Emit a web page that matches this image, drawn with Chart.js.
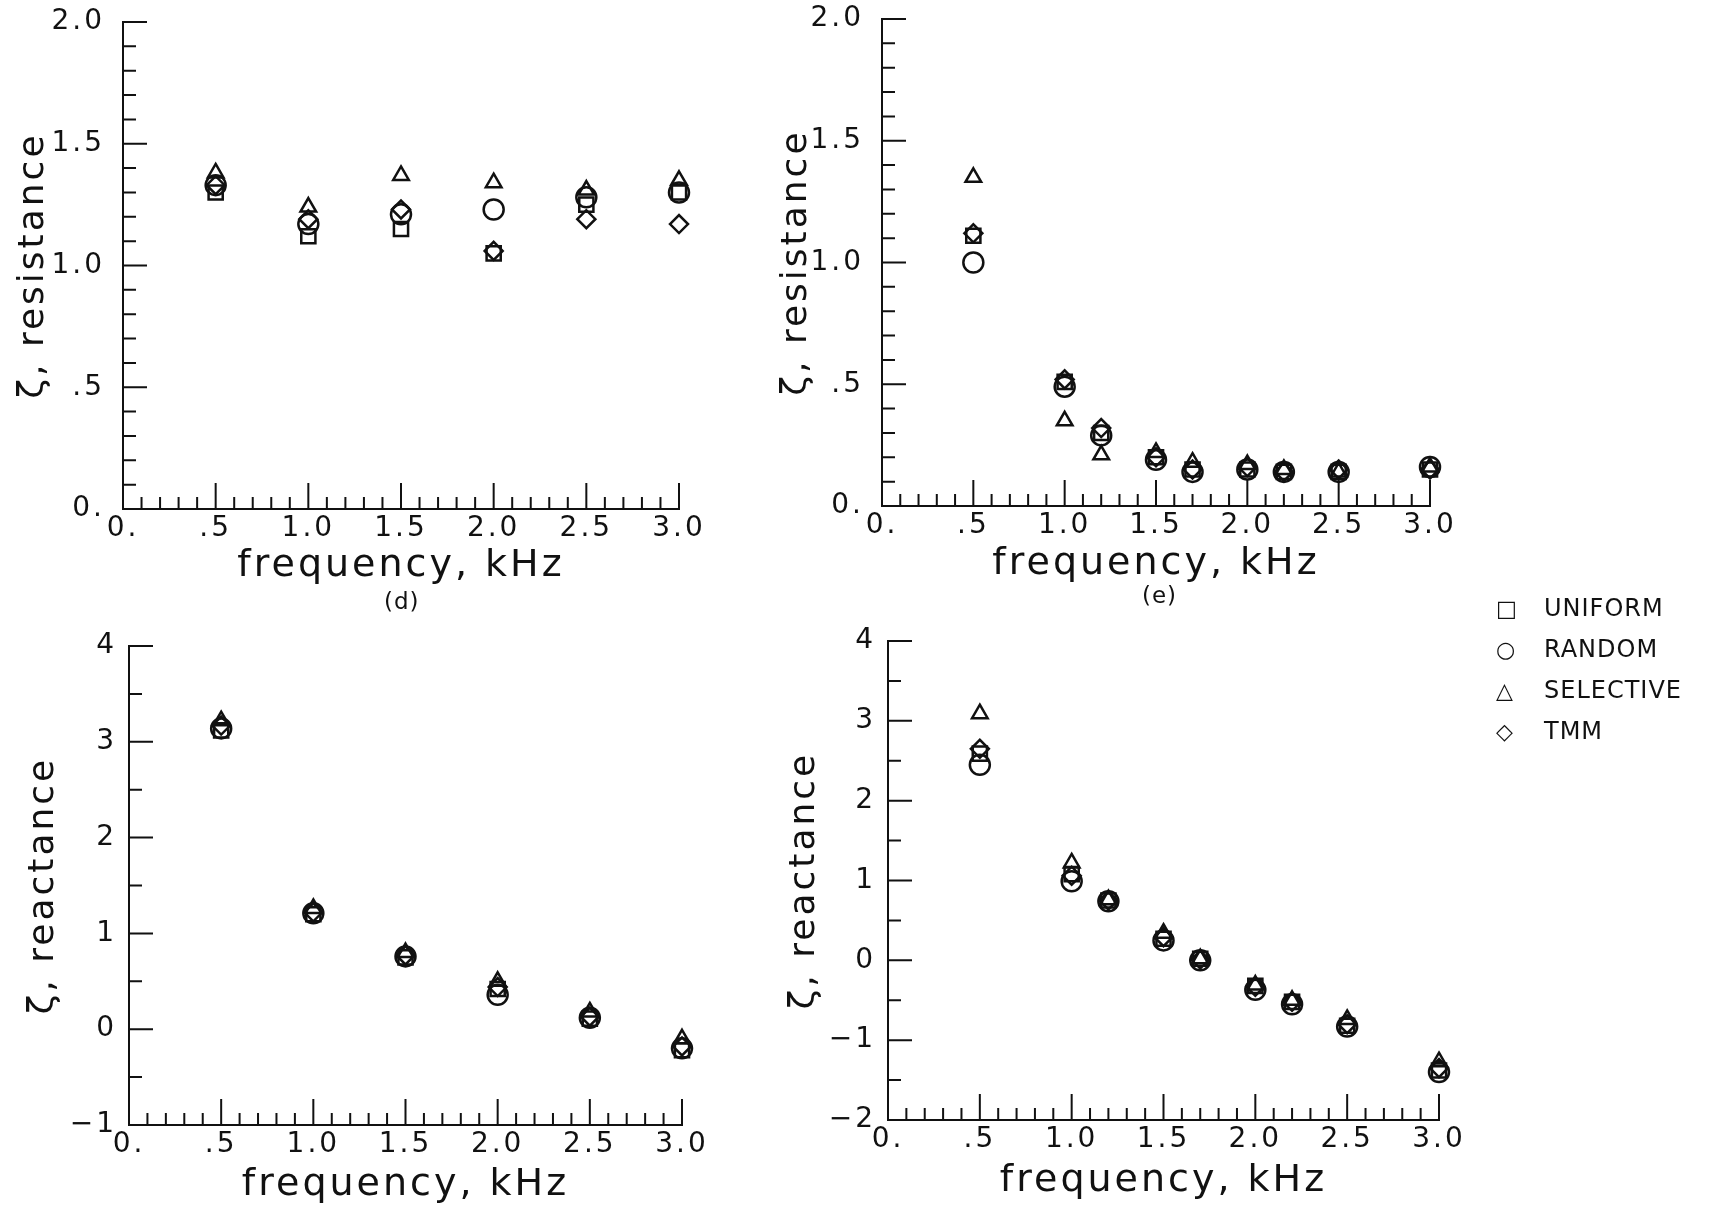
<!DOCTYPE html>
<html>
<head>
<meta charset="utf-8">
<script src="https://cdn.jsdelivr.net/npm/chart.js@4.4.1/dist/chart.umd.min.js"></script>
<style>
    body { margin: 0; background: #fff; width: 1718px; height: 1213px; position: relative; overflow: hidden; }
    canvas { position: absolute; }
    .panel-label { position: absolute; font-family: "DejaVu Sans", sans-serif; font-size: 23px; color: #111; letter-spacing: 1px; }
    .legend { position: absolute; left: 1496px; top: 590px; font-family: "DejaVu Sans", sans-serif; color: #111; }
    .legend div { height: 41px; line-height: 36px; font-size: 24px; letter-spacing: 1px; white-space: nowrap; }
    .legend span { display: inline-block; width: 48px; font-size: 22px; text-align: left; }
</style>
</head>
<body>
<canvas id="resD" style="left:0px;top:0px;width:760px;height:610px"></canvas>
<canvas id="resE" style="left:760px;top:0px;width:740px;height:610px"></canvas>
<canvas id="reaD" style="left:0px;top:610px;width:760px;height:603px"></canvas>
<canvas id="reaE" style="left:760px;top:610px;width:740px;height:603px"></canvas>
<div class="panel-label" style="left:384px;top:588px">(d)</div>
<div class="panel-label" style="left:1142px;top:582px">(e)</div>
<div class="legend">
    <div><span>&#9633;</span>UNIFORM</div>
    <div><span>&#9675;</span>RANDOM</div>
    <div><span>&#9651;</span>SELECTIVE</div>
    <div><span>&#9671;</span>TMM</div>
</div>
<script>
// Data
const freqD = [0.5, 1.0, 1.5, 2.0, 2.5, 3.0];
const freqE = [0.5, 1.0, 1.2, 1.5, 1.7, 2.0, 2.2, 2.5, 3.0];

const resD_uniform   = [1.30, 1.12, 1.15, 1.05, 1.25, 1.30];
const resD_random    = [1.33, 1.17, 1.21, 1.23, 1.28, 1.30];
const resD_selective = [1.38, 1.24, 1.37, 1.34, 1.31, 1.35];
const resD_tmm       = [1.33, 1.19, 1.23, 1.06, 1.19, 1.17];

const resE_uniform   = [1.11, 0.51, 0.30, 0.20, 0.15, 0.15, 0.14, 0.14, 0.15];
const resE_random    = [1.00, 0.49, 0.29, 0.19, 0.14, 0.15, 0.14, 0.14, 0.16];
const resE_selective = [1.35, 0.35, 0.21, 0.22, 0.18, 0.17, 0.15, 0.14, 0.16];
const resE_tmm       = [1.12, 0.52, 0.32, 0.20, 0.15, 0.16, 0.14, 0.15, 0.15];

const reaD_uniform   = [3.12, 1.20, 0.75, 0.42, 0.11, -0.22];
const reaD_random    = [3.14, 1.21, 0.76, 0.36, 0.12, -0.20];
const reaD_selective = [3.22, 1.26, 0.80, 0.50, 0.18, -0.10];
const reaD_tmm       = [3.17, 1.22, 0.77, 0.44, 0.13, -0.18];

const reaE_uniform   = [2.59, 1.08, 0.75, 0.27, 0.02, -0.32, -0.52, -0.82, -1.38];
const reaE_random    = [2.45, 0.99, 0.74, 0.25, 0.00, -0.37, -0.55, -0.83, -1.40];
const reaE_selective = [3.09, 1.22, 0.76, 0.34, 0.02, -0.31, -0.50, -0.74, -1.27];
const reaE_tmm       = [2.65, 1.06, 0.75, 0.29, 0.01, -0.33, -0.52, -0.80, -1.35];

// Tick labels
const freqTickLabels = ['0.', '.5', '1.0', '1.5', '2.0', '2.5', '3.0'];
const resTickLabels = ['0.', '.5', '1.0', '1.5', '2.0'];
const reaDTickLabels = ['\u22121', '0', '1', '2', '3', '4'];
const reaETickLabels = ['\u22122', '\u22121', '0', '1', '2', '3', '4'];

const seriesNames = ['UNIFORM', 'RANDOM', 'SELECTIVE', 'TMM'];
const seriesStyles = [
    { pointStyle: 'rect', radius: 10 },
    { pointStyle: 'circle', radius: 10 },
    { pointStyle: 'triangle', radius: 9 },
    { pointStyle: 'rectRot', radius: 9 }
];

const INK = '#111';
const FONT = '"DejaVu Sans", sans-serif';

// Inward minor/major tick marks along both axes
const tickMarks = {
    id: 'tickMarks',
    afterDraw(chart, args, opts) {
        const { ctx, chartArea, scales: { x, y } } = chart;
        ctx.save();
        ctx.strokeStyle = INK;
        ctx.lineWidth = 2;
        ctx.beginPath();
        for (let i = 0; i <= 30; i++) {
            const px = x.getPixelForValue(i / 10);
            const len = i % 5 === 0 ? 26 : 12;
            ctx.moveTo(px, chartArea.bottom);
            ctx.lineTo(px, chartArea.bottom - len);
        }
        const n = Math.round((y.max - y.min) / opts.yStep);
        for (let i = 0; i <= n; i++) {
            const v = y.min + i * opts.yStep;
            const py = y.getPixelForValue(v);
            const r = v / opts.yMajor;
            const major = Math.abs(r - Math.round(r)) < 1e-6;
            ctx.moveTo(chartArea.left, py);
            ctx.lineTo(chartArea.left + (major ? 24 : 13), py);
        }
        ctx.stroke();
        ctx.restore();
    }
};

// Wider letter spacing, like the typeset original
const spacing = {
    id: 'spacing',
    beforeDraw(chart) {
        chart.ctx.letterSpacing = '3px';
    }
};

function makeDatasets(freq, series) {
    return series.map((values, i) => ({
        label: seriesNames[i],
        data: freq.map((f, k) => ({ x: f, y: values[k] })),
        pointStyle: seriesStyles[i].pointStyle,
        pointRadius: seriesStyles[i].radius,
        pointBorderWidth: 2.5,
        pointBorderColor: INK,
        pointBackgroundColor: 'rgba(0,0,0,0)',
        showLine: false,
        clip: false
    }));
}

function makeChart(id, cfg) {
    const canvas = document.getElementById(id);
    return new Chart(canvas, {
        type: 'scatter',
        data: { datasets: makeDatasets(cfg.freq, cfg.series) },
        options: {
            responsive: false,
            animation: false,
            devicePixelRatio: 1,
            layout: { padding: cfg.padding },
            plugins: {
                legend: { display: false },
                tooltip: { enabled: false },
                tickMarks: { yStep: cfg.yStep, yMajor: cfg.yMajor }
            },
            scales: {
                x: {
                    type: 'linear',
                    min: 0,
                    max: 3,
                    grid: { display: false, drawTicks: false },
                    border: { display: true, color: INK, width: 2 },
                    ticks: {
                        stepSize: 0.5,
                        autoSkip: false,
                        maxRotation: 0,
                        padding: 3,
                        color: INK,
                        font: { family: FONT, size: 28 },
                        callback: (v, i) => freqTickLabels[i]
                    },
                    title: {
                        display: true,
                        text: 'frequency, kHz',
                        color: INK,
                        padding: 0,
                        font: { family: FONT, size: 38 }
                    },
                    afterFit: (s) => {
                        s.height = cfg.xHeight;
                        s.paddingLeft = 0; s.paddingRight = 0;
                    }
                },
                y: {
                    type: 'linear',
                    min: cfg.yMin,
                    max: cfg.yMax,
                    grid: { display: false, drawTicks: false },
                    border: { display: true, color: INK, width: 2 },
                    ticks: {
                        stepSize: cfg.yLabelStep,
                        autoSkip: false,
                        padding: cfg.yTickPad,
                        color: INK,
                        font: { family: FONT, size: 28 },
                        callback: (v, i) => cfg.yLabels[i]
                    },
                    title: {
                        display: true,
                        text: cfg.yTitle,
                        color: INK,
                        padding: { top: cfg.yTitlePad, bottom: 0 },
                        font: { family: FONT, size: 36 }
                    },
                    afterFit: (s) => {
                        s.width = cfg.yWidth;
                        s.paddingTop = 0; s.paddingBottom = 0;
                    }
                }
            }
        },
        plugins: [spacing, tickMarks]
    });
}

makeChart('resD', {
    freq: freqD,
    series: [resD_uniform, resD_random, resD_selective, resD_tmm],
    yMin: 0, yMax: 2, yLabelStep: 0.5, yStep: 0.1, yMajor: 0.5,
    yLabels: resTickLabels, yTitle: '\u03B6, resistance',
    yWidth: 123, xHeight: 80, yTickPad: 18, yTitlePad: 12,
    padding: { left: 0, top: 22, right: 81, bottom: 21 }
});

makeChart('resE', {
    freq: freqE,
    series: [resE_uniform, resE_random, resE_selective, resE_tmm],
    yMin: 0, yMax: 2, yLabelStep: 0.5, yStep: 0.1, yMajor: 0.5,
    yLabels: resTickLabels, yTitle: '\u03B6, resistance',
    yWidth: 122, xHeight: 81, yTickPad: 18, yTitlePad: 15,
    padding: { left: 0, top: 19, right: 70, bottom: 23 }
});

makeChart('reaD', {
    freq: freqD,
    series: [reaD_uniform, reaD_random, reaD_selective, reaD_tmm],
    yMin: -1, yMax: 4, yLabelStep: 1, yStep: 0.5, yMajor: 1,
    yLabels: reaDTickLabels, yTitle: '\u03B6, reactance',
    yWidth: 129, xHeight: 83, yTickPad: 12, yTitlePad: 22,
    padding: { left: 0, top: 36, right: 78, bottom: 5 }
});

makeChart('reaE', {
    freq: freqE,
    series: [reaE_uniform, reaE_random, reaE_selective, reaE_tmm],
    yMin: -2, yMax: 4, yLabelStep: 1, yStep: 0.5, yMajor: 1,
    yLabels: reaETickLabels, yTitle: '\u03B6, reactance',
    yWidth: 128, xHeight: 84, yTickPad: 12, yTitlePad: 23,
    padding: { left: 0, top: 31, right: 61, bottom: 9 }
});
</script>
</body>
</html>
